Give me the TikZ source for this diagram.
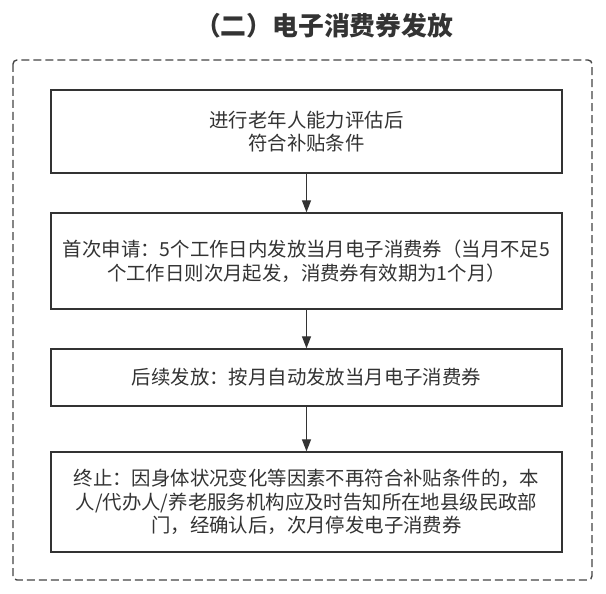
\documentclass[tikz,border=0pt]{standalone}
\usepackage{fontspec}
\setmainfont{Noto Sans CJK SC}
\usetikzlibrary{arrows.meta}
\definecolor{linegray}{HTML}{333333}
\definecolor{textgray}{HTML}{333333}
\definecolor{framegray}{HTML}{444444}
\begin{document}
\begin{tikzpicture}[x=1pt,y=-1pt,flow_node/.style={rectangle,draw=linegray,line width=1.3pt,fill=white,minimum width=511pt,inner sep=0pt,align=center,font=\fontsize{19.4}{23.5}\selectfont,text=textgray},flow_arrow/.style={-{Triangle[length=12pt,width=9pt]},draw=linegray,line width=1.2pt}]
		\useasboundingbox (0,0) rectangle (606,594);

		\node[font=\fontsize{25.8}{30}\selectfont\bfseries,text=textgray] (0) at (324,26) {（二）电子消费券发放};
		\draw[framegray,line width=1.4pt,dash pattern=on 8pt off 4pt,rounded corners=4pt] (13,60) rectangle (592,580);

		\node[flow_node,minimum height=83pt] (1) at (306.5,131.5) {进行老年人能力评估后\\符合补贴条件};
		\node[flow_node,minimum height=96pt] (2) at (306.5,261) {首次申请：5个工作日内发放当月电子消费券（当月不足5\\个工作日则次月起发，消费券有效期为1个月）};
		\node[flow_node,minimum height=57pt] (3) at (306.5,377.5) {后续发放：按月自动发放当月电子消费券};
		\node[flow_node,minimum height=100pt] (4) at (306.5,502) {终止：因身体状况变化等因素不再符合补贴条件的，本\\人/代办人/养老服务机构应及时告知所在地县级民政部\\门，经确认后，次月停发电子消费券};

		\draw[flow_arrow] (1) -- (2);
		\draw[flow_arrow] (2) -- (3);
		\draw[flow_arrow] (3) -- (4);
		\end{tikzpicture}
\end{document}
